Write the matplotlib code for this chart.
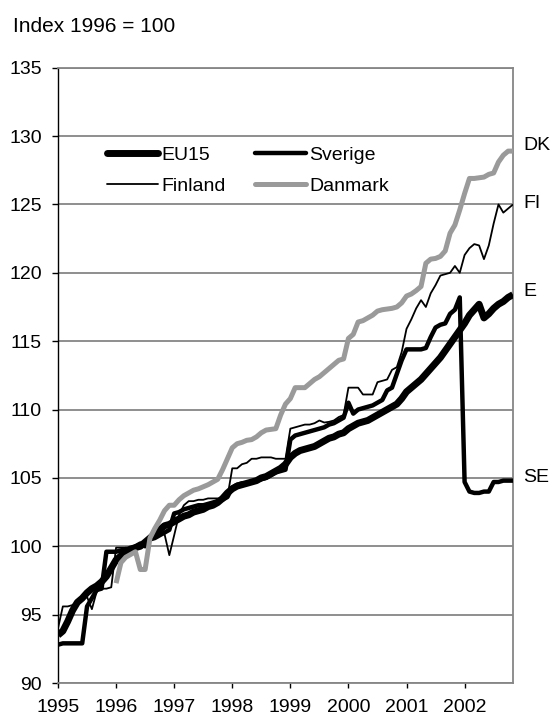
import numpy as np
import matplotlib
matplotlib.use("Agg")
import matplotlib.pyplot as plt
from matplotlib.transforms import blended_transform_factory

plt.rcParams['font.family'] = ['Liberation Sans', 'DejaVu Sans']

# monthly, Jan 1995 .. Nov 2002
year_labels = ["1995", "1996", "1997", "1998", "1999", "2000", "2001", "2002"]

eu15 = [93.5, 93.8, 94.5, 95.3, 95.9, 96.2, 96.6, 96.9, 97.1, 97.4,
        97.8, 98.4, 99.0, 99.3, 99.6, 99.8, 99.9, 100.0, 100.3, 100.6,
        100.9, 101.2, 101.5, 101.6, 101.8, 102.0, 102.2, 102.3, 102.5, 102.6,
        102.7, 102.9, 103.0, 103.2, 103.5, 103.9, 104.2, 104.4, 104.5, 104.6,
        104.7, 104.8, 105.0, 105.1, 105.3, 105.5, 105.7, 106.0, 106.5, 106.8,
        107.0, 107.1, 107.2, 107.3, 107.5, 107.7, 107.9, 108.0, 108.2, 108.3,
        108.6, 108.8, 109.0, 109.1, 109.2, 109.4, 109.6, 109.8, 110.0, 110.2,
        110.4, 110.8, 111.3, 111.6, 111.9, 112.2, 112.6, 113.0, 113.4, 113.8,
        114.3, 114.8, 115.3, 115.8, 116.3, 116.9, 117.3, 117.7, 116.7, 117.0,
        117.4, 117.7, 117.9, 118.2, 118.4]

sverige = [92.8, 92.9, 92.9, 92.9, 92.9, 92.9, 95.6, 96.2, 96.8, 96.9,
           99.6, 99.6, 99.6, 99.7, 99.8, 99.8, 100.0, 100.2, 100.0, 100.5,
           100.6, 100.8, 101.0, 101.2, 102.4, 102.5, 102.7, 102.8, 102.9, 103.0,
           103.0, 103.1, 103.2, 103.3, 103.4, 103.6, 104.3, 104.5, 104.6, 104.6,
           104.7, 104.8, 104.9, 105.0, 105.2, 105.4, 105.5, 105.6, 107.8, 108.1,
           108.2, 108.3, 108.4, 108.5, 108.6, 108.7, 108.9, 109.0, 109.2, 109.4,
           110.5, 109.7, 110.0, 110.1, 110.2, 110.3, 110.5, 110.7, 111.4, 111.6,
           112.6, 113.6, 114.4, 114.4, 114.4, 114.4, 114.5, 115.3, 116.0, 116.2,
           116.3, 117.0, 117.3, 118.2, 104.7, 104.0, 103.9, 103.9, 104.0, 104.0,
           104.7, 104.7, 104.8, 104.8, 104.8]

finland = [94.0, 95.6, 95.6, 95.7, 96.0, 96.1, 96.3, 95.4, 96.7, 96.9,
           96.9, 97.0, 99.9, 99.9, 99.9, 99.9, 99.9, 100.0, 100.4, 100.5,
           100.7, 100.8, 100.9, 99.35, 100.8, 102.3, 103.0, 103.3, 103.3, 103.4,
           103.4, 103.5, 103.5, 103.5, 103.5, 103.6, 105.7, 105.7, 106.0, 106.1,
           106.4, 106.4, 106.5, 106.5, 106.5, 106.4, 106.4, 106.4, 108.6, 108.7,
           108.8, 108.9, 108.9, 109.0, 109.2, 109.05, 109.1, 109.2, 109.45, 109.6,
           111.6, 111.6, 111.6, 111.1, 111.1, 111.1, 112.0, 112.1, 112.2, 112.9,
           113.1, 114.2, 115.9, 116.6, 117.4, 118.0, 117.5, 118.5, 119.1, 119.8,
           119.9, 120.0, 120.5, 120.0, 121.3, 121.8, 122.1, 122.0, 121.0, 122.0,
           123.6, 125.0, 124.4, 124.7, 125.0]

danmark = [np.nan] * 12 + [
           97.3, 98.8, 99.2, 99.4, 99.6, 98.3, 98.3, 100.6, 101.3, 101.9,
           102.6, 103.0, 103.0, 103.4, 103.7, 103.9, 104.1, 104.2, 104.35, 104.5,
           104.7, 104.9, 105.6, 106.4, 107.2, 107.5, 107.6, 107.75, 107.8, 108.0,
           108.3, 108.5, 108.55, 108.6, 109.6, 110.4, 110.8, 111.6, 111.6, 111.6,
           111.9, 112.2, 112.4, 112.7, 113.0, 113.3, 113.6, 113.7, 115.2, 115.5,
           116.4, 116.5, 116.7, 116.9, 117.2, 117.3, 117.35, 117.4, 117.5, 117.8,
           118.3, 118.45, 118.7, 119.0, 120.7, 121.0, 121.05, 121.2, 121.6, 122.9,
           123.5, 124.6, 125.8, 126.9, 126.9, 126.95, 127.0, 127.2, 127.3, 128.1,
           128.6, 128.9, 128.9]

end_labels = ["DK", "FI", "E", "SE"]
end_label_y = [129.3, 125.1, 118.6, 105.0]

months = np.arange(len(eu15))

fig = plt.figure(figsize=(5.55, 7.22), dpi=100)
ax = fig.add_axes([58/555, 1 - 683/722, (513 - 58)/555, (683 - 67.7)/722])

grid_c = '#868686'
kw = dict(solid_joinstyle='round', solid_capstyle='butt')
l_eu, = ax.plot(months, eu15, color='black', lw=5.0, label='EU15', zorder=3, **kw)
l_se, = ax.plot(months, sverige, color='black', lw=3.2, label='Sverige', zorder=4, **kw)
l_fi, = ax.plot(months, finland, color='black', lw=1.3, label='Finland', zorder=5, **kw)
l_dk, = ax.plot(months, danmark, color='#9a9a9a', lw=3.6, label='Danmark', zorder=6, **kw)

ax.set_xlim(0, len(eu15) - 1)
ax.set_ylim(90, 135)
ax.set_yticks(np.arange(90, 136, 5))
ax.set_xticks(np.arange(0, 12 * len(year_labels), 12))
ax.set_xticklabels(year_labels)
ax.yaxis.grid(True, color=grid_c, lw=1.3)
ax.set_axisbelow(True)

for s in ['top', 'right', 'bottom']:
    ax.spines[s].set_color(grid_c)
    ax.spines[s].set_linewidth(1.3)
ax.spines['left'].set_color('black')
ax.spines['left'].set_linewidth(1.0)

ax.tick_params(axis='y', direction='out', length=4.5, width=1, color='black',
               labelsize=14, pad=7)
ax.tick_params(axis='x', direction='out', length=3.6, width=1, color='black',
               labelsize=14, pad=8)

trans = blended_transform_factory(ax.transAxes, ax.transData)
for lab, yv in zip(end_labels, end_label_y):
    ax.text(1.022, yv, lab, transform=trans, fontsize=14, va='center', ha='left')

fig.text(13/555, 1 - 26/722, "Index 1996 = 100", fontsize=15, va='center', ha='left')

leg = ax.legend(handles=[l_eu, l_fi, l_se, l_dk], ncol=2, frameon=False,
                loc='upper left', bbox_to_anchor=(107/555, 1 - 146/722),
                bbox_transform=fig.transFigure, borderpad=0, borderaxespad=0,
                handlelength=2.6, handletextpad=0.2, columnspacing=1.5,
                labelspacing=0.7, fontsize=14)
for h in leg.get_lines():
    h.set_solid_capstyle('round')

fig.savefig('out.png', dpi=100)
